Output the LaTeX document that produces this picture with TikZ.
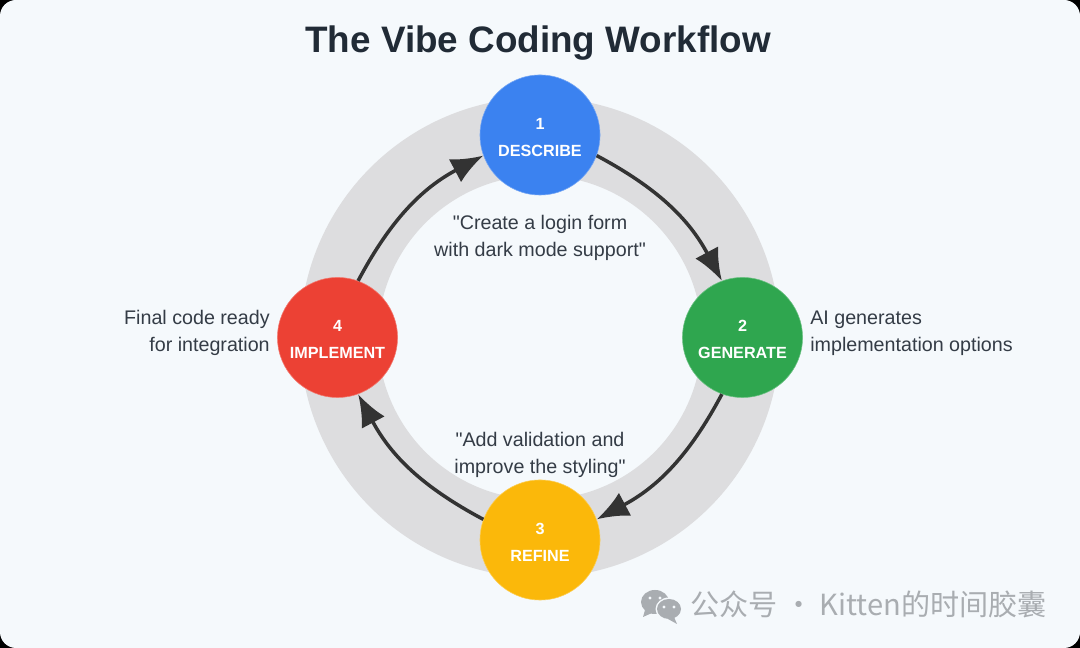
\documentclass[tikz,border=0pt]{standalone}
\usepackage{fontspec}
\setmainfont{Liberation Sans}
\newfontfamily\cjk{Noto Sans CJK SC}
\usetikzlibrary{arrows.meta}
\definecolor{pagebg}{HTML}{F5F9FC}
\definecolor{ringgray}{HTML}{DDDDDF}
\definecolor{inkdark}{HTML}{333333}
\definecolor{titleink}{HTML}{212B36}
\definecolor{textink}{HTML}{343C46}
\definecolor{markgray}{HTML}{A9ADB1}
\definecolor{stepblue}{HTML}{3B82F0}
\definecolor{stepgreen}{HTML}{2FA64F}
\definecolor{stepyellow}{HTML}{FBB80A}
\definecolor{stepred}{HTML}{EC4134}

\begin{document}
\begin{tikzpicture}[
		x=0.025cm,y=0.025cm,
		stage/.style={circle,minimum size=3cm,inner sep=0pt,align=center,text=white,
			font=\fontsize{11.5}{19.2}\selectfont\bfseries},
		flow/.style={-{Latex[length=0.8cm,width=0.65cm]},line width=2.5pt,inkdark},
		lab/.style={font=\fontsize{14}{19.4}\selectfont,text=textink,inner sep=0pt}
		]
		% ===== Parameters =====
		\def\cx{540}           % ring centre
		\def\cy{310.5}
		\def\Rr{202.5}         % radius through the stage circles
		\def\up{\rule{0pt}{11pt}} % pushes the stage text down a little
		% ===== Page =====
		\fill[black] (0,0) rectangle (1080,648);
		\fill[pagebg,rounded corners=0.4cm] (0,0) rectangle (1080,648);
		\node[font=\fontsize{26.2}{30}\selectfont\bfseries,text=titleink,inner sep=0pt] (title) at (538,605) {The Vibe Coding Workflow};
		% ===== Ring =====
		\draw[ringgray,line width=1.95cm] (\cx,\cy) circle (201);
		% ===== Stages =====
		\node[stage,fill=stepblue,draw=stepblue!70!white] (describe) at (\cx,\cy+\Rr) {\up 1\\DESCRIBE};
		\node[stage,fill=stepgreen,draw=stepgreen!70!white] (generate) at (\cx+\Rr,\cy) {\up 2\\GENERATE};
		\node[stage,fill=stepyellow,draw=stepyellow!70!white] (refine) at (\cx,\cy-\Rr) {\up 3\\REFINE};
		\node[stage,fill=stepred,draw=stepred!70!white] (implement) at (\cx-\Rr,\cy) {\up 4\\IMPLEMENT};
		% ===== Arrows between stages =====
		\draw[flow] (describe.-20) to[bend left=17] (generate.110);
		\draw[flow] (generate.-110) to[bend left=17] (refine.20);
		\draw[flow] (refine.160) to[bend left=17] (implement.-70);
		\draw[flow] (implement.70) to[bend left=17] (describe.200);
		% ===== Labels =====
		\node[lab,align=center] (prompta) at (\cx,410) {\textquotedbl Create a login form\\with dark mode support\textquotedbl};
		\node[lab,align=left,anchor=west] (promptb) at (810,315) {AI generates\\implementation options};
		\node[lab,align=center] (promptc) at (\cx,193) {\textquotedbl Add validation and\\improve the styling\textquotedbl};
		\node[lab,align=right,anchor=east] (promptd) at (270,315) {Final code ready\\for integration};
		% ===== Watermark =====
		\fill[markgray] (655,46) ellipse (14 and 12);
		\fill[markgray] (645,38) -- (643,31) -- (652,35) -- cycle;
		\fill[pagebg] (669,39) ellipse (13.5 and 11.5);
		\fill[markgray] (669,39) ellipse (12 and 10);
		\fill[markgray] (674,31) -- (677,24) -- (668,29) -- cycle;
		\foreach \ex/\ey in {650/50,660/50,664/41,674/41}
			\fill[pagebg] (\ex,\ey) circle (1.7);
		\node[font=\cjk\fontsize{20.7}{24}\selectfont,text=markgray,anchor=west,inner sep=0pt] (mark) at (690,44) {公众号 · Kitten的时间胶囊};
	\end{tikzpicture}
\end{document}
